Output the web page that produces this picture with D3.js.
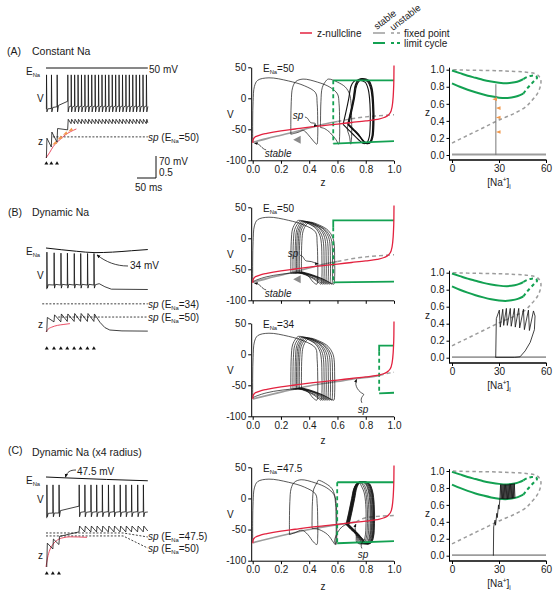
<!DOCTYPE html>
<html><head><meta charset="utf-8">
<script src="https://cdn.jsdelivr.net/npm/d3@7"></script>
<style>
body{margin:0;background:#fff}
svg text{font-family:"Liberation Sans",Arial,Helvetica,sans-serif;fill:#1a1a1a}
</style></head><body>
<script>
// ================= DATA =================
const RED="#e3223f", GREEN="#13a152", GRAY="#9c9c9c", ORANGE="#f29a4e";
// ---- left column: time series (t in ms) ----
const spikeTimesA=[1,14,29,57,66,75,84,93,102,111,120,129,138,147,156,165,174,183,192,201,210,219,228,237,246,255,264];
const vPeakA=[30];
const vTroughA=-78;
const vPreA=[-70,-68,-63,-47,-61,-61,-61,-61,-61,-61,-61,-61,-61,-61,-61,-61,-61,-61,-61,-61,-61,-61,-61,-61,-61,-61,-61];
const vAfterA=[-69,-65,-59,-63,-63,-63,-63,-63,-63,-63,-63,-63,-63,-63,-63,-63,-63,-63,-63,-63,-63,-63,-63,-63,-63,-63,-63];
const vTailA=[[268,-62]];
const zPreA=[0,0.25,0.36,0.64,0.78,0.78,0.78,0.78,0.78,0.78,0.78,0.78,0.78,0.78,0.78,0.78,0.78,0.78,0.78,0.78,0.78,0.78,0.78,0.78,0.78,0.78,0.78];
const zPeakA=[0.45,0.59,0.67,0.88,0.88,0.88,0.88,0.88,0.88,0.88,0.88,0.88,0.88,0.88,0.88,0.88,0.88,0.88,0.88,0.88,0.88,0.88,0.88,0.88,0.88,0.88,0.88];
const zTailA=[[268,0.8]];
const enaTA=[0,268], enaVA=[50,50];
const redTA=[[0,0],[10,0.13],[19,0.26],[28,0.35],[37,0.42],[50,0.52],[65,0.6],[80,0.66]];
const orangeTA=[[22,0.33],[36,0.45],[50,0.55],[64,0.63]];
const stimA=[1,14,29];
const spA=[0.48];

const spikeTimesB=[2,21,39,56,74,91,109,126];
const vPeakB=[38,36,35,35,34,34,34,34];
const vTroughB=-67;
const vPreB=[-70,-58,-58,-58,-58,-58,-58,-58];
const vAfterB=[-57,-56,-56,-56,-56,-56,-56,-57];
const vTailB=[[140,-54],[155,-63],[172,-70],[268,-71]];
const zPreB=[0,0.23,0.23,0.24,0.24,0.24,0.24,0.24];
const zPeakB=[0.33,0.39,0.41,0.41,0.42,0.42,0.42,0.41];
const zTailB=[[142,0.22],[155,0.1],[168,0.045],[200,0.025],[268,0.02]];
const enaTB=[0,40,80,129,175,225,268], enaVB=[50,45,40.5,36.5,38,42,45.5];
const redTB=[[0,0],[5,0.06],[15,0.11],[30,0.15],[45,0.17],[63,0.19]];
const stimB=[2,21,39,56,74,91,109,126];
const spB34=[0.64], spB50=[0.34];

const spikeTimesC=[2,18,34,87,102,118,133,148,164,179,195,210,225,241,256];
const vPeakC=[27];
const vTroughC=-66;
const vPreC=[-70,-55,-55,-35,-51,-51,-51,-51,-51,-51,-51,-51,-51,-51,-51];
const vAfterC=[-56,-55,-48,-53,-53,-53,-53,-53,-53,-53,-53,-53,-53,-53,-53];
const vTailC=[[268,-52]];
const zPreC=[0,0.40,0.50,0.78,0.78,0.78,0.78,0.78,0.78,0.78,0.78,0.78,0.78,0.78,0.78];
const zPeakC=[0.53,0.62,0.68,0.91,0.91,0.91,0.91,0.91,0.91,0.91,0.91,0.91,0.91,0.91,0.91];
const zTailC=[[268,0.8]];
const enaTC=[0,50,268], enaVC=[50,47.5,39];
const redTC=[[0,0],[4,0.2],[10,0.38],[18,0.5],[30,0.6],[45,0.65],[63,0.67],[108,0.66]];
const stimC=[2,18,34];
const spC475=[[0,0.756],[203,0.756],[268,0.667]];
const spC50=[[0,0.69],[203,0.69],[268,0.42]];

// ---- middle column: phase planes (z, V) ----
const zTicks=[0,0.2,0.4,0.6,0.8,1.0];
const vTicks=[-100,-50,0,50];
const nullcline=[[0,-72],[0.003,-67],[0.01,-64],[0.03,-61],[0.06,-58.5],[0.1,-56.5],[0.2,-52.5],[0.3,-49.5],[0.4,-46.5],[0.5,-44],[0.6,-41.5],[0.7,-39],[0.8,-36.5],[0.88,-34],[0.93,-31],[0.96,-27],[0.98,-20],[0.99,-8],[0.996,10],[0.999,30],[1.0,53]];
const fpSolid50=[[0,-71],[0.1,-65],[0.2,-59.5],[0.3,-54],[0.4,-48],[0.5,-42],[0.6,-37.5]];
const fpDash50=[[0.6,-37.5],[0.7,-33],[0.8,-30],[0.9,-28],[1.0,-26.5]];
const fpSolid34=[[0,-72],[0.2,-61],[0.4,-51],[0.6,-44],[0.74,-39],[0.85,-36],[0.9,-34]];
const fpDash34=[[0.9,-34],[0.95,-31],[1,-29]];
const fpSolid475=[[0,-71],[0.2,-60],[0.4,-50],[0.6,-42],[0.73,-38]];
const fpDash475=[[0.73,-38],[0.8,-31],[0.9,-28.5],[1,-27.5]];
const lcTop50=[[0.57,29],[1,29]], lcBot50=[[0.57,-73],[1,-69]], lcDash50=[[0.57,29],[0.57,-73]];
const lcTopB50=[[0.57,18],[0.57,29],[1,29]], lcBotB50=[[0.57,-71],[1,-70]], lcDashB50=[[0.57,18],[0.57,-71]];
const lcTop34=[[0.895,4],[0.895,14],[1,14]], lcBot34=[[0.895,-63],[1,-62]], lcDash34=[[0.895,4],[0.895,-63]];
const lcTop475=[[0.598,26],[1,26]], lcBot475=[[0.598,-72],[1,-68.5]], lcDash475=[[0.598,26],[0.598,-72]];
// spike loops: [zStart, vStart, zDrop, vPeak]
const loopsA=[[0,-70,0.46,33],[0.27,-58,0.615,31],[0.48,-47,0.70,31]];
const returnsA=[[[0.43,-69],[0.39,-58],[0.36,-52],[0.32,-55],[0.27,-58]],[[0.59,-67],[0.55,-56],[0.51,-49],[0.48,-47]],[[0.685,-62],[0.67,-50],[0.675,-42]]];
// converged cycles: [zLeft, zRight, vPeak]
const cyclesA=[[0.64,0.83,29],[0.675,0.852,31],[0.68,0.848,30],[0.672,0.856,32]];
const loopsB=[[0,-70,0.46,34],[0.27,-56,0.49,29],[0.285,-56,0.505,28],[0.30,-56,0.52,28],[0.31,-55,0.535,27],[0.32,-55,0.55,27],[0.33,-55,0.565,26],[0.345,-55,0.58,26]];
const returnsB=[[[0.43,-71],[0.39,-60],[0.35,-54],[0.30,-56],[0.27,-56]],[[0.47,-72],[0.42,-64],[0.33,-56],[0.285,-56]],[[0.485,-72],[0.43,-64],[0.34,-56],[0.30,-56]],[[0.50,-72],[0.44,-63],[0.35,-56],[0.31,-55]],[[0.515,-72],[0.45,-63],[0.36,-56],[0.32,-55]],[[0.53,-72],[0.46,-63],[0.37,-56],[0.33,-55]],[[0.545,-72],[0.47,-63],[0.38,-56],[0.345,-55]],[[0.56,-73],[0.5,-66],[0.42,-60],[0.32,-56],[0.2,-58],[0.1,-62],[0.03,-67],[0,-70]]];
const loopsC=[[0,-70,0.46,31],[0.26,-58,0.59,30],[0.42,-48,0.595,29]];
const returnsC=[[[0.43,-70],[0.39,-58],[0.35,-51],[0.30,-55],[0.26,-58]],[[0.57,-70],[0.53,-58],[0.47,-50],[0.42,-48]],[[0.58,-68],[0.6,-55],[0.63,-46],[0.66,-42]]];
const cyclesC=[[0.660,0.80,25],[0.662,0.81,26],[0.664,0.82,26],[0.666,0.83,27],[0.668,0.835,27],[0.67,0.84,27],[0.672,0.845,27],[0.674,0.85,27],[0.676,0.852,27],[0.678,0.855,27],[0.68,0.858,27],[0.682,0.86,27]];

// ---- right column: bifurcation diagrams ([Na+]i, z) ----
const naTicks=[0,30,60];
const zTicksR=[0,0.2,0.4,0.6,0.8,1.0];
const fpBif=[[0,0.14],[10,0.23],[20,0.32],[30,0.41],[40,0.49],[46,0.55],[51,0.64],[54.5,0.72],[56.3,0.8],[56.8,0.86],[56,0.91],[54,0.945],[50,0.965],[40,0.98],[25,0.99],[10,0.995],[0,1.0]];
const restBif=[[0,0.006],[60,0.006]];
const lcMaxBif=[[0,0.99],[5,0.96],[10,0.93],[15,0.905],[20,0.88],[25,0.862],[30,0.848],[35,0.842],[40,0.852],[43,0.868],[45.5,0.89]];
const lcMinBif=[[0,0.84],[5,0.80],[10,0.765],[15,0.735],[20,0.71],[25,0.688],[30,0.672],[34,0.667],[38,0.675],[42,0.692],[45.5,0.72]];
const lcUnstBif=[[45.5,0.72],[48,0.78],[50.5,0.83],[52.5,0.87],[54.3,0.905],[53.5,0.925],[51,0.93],[48,0.915],[45.5,0.89]];
const naFixedA=[[28,0],[28,0.83]];
const orangeNaA=[[27.3,0.655],[29.6,0.55],[29.6,0.44],[29.6,0.27]];
const trajNaB=[[27.9,0],[28.3,0.46],[30.2,0.56],[30.8,0.36],[32.4,0.57],[33,0.38],[34.7,0.58],[35.3,0.38],[37.2,0.58],[37.8,0.37],[39.8,0.58],[40.4,0.36],[42.6,0.58],[43.2,0.35],[45.6,0.57],[46.2,0.33],[48.8,0.56],[49.4,0.32],[52,0.55],[53,0.49],[52.6,0.33],[49.9,0.18],[46.7,0.08],[43.4,0.01],[40,0.004],[28,0.004]];
const trajNaC=[[26.4,0],[26.6,0.34],[27.5,0.42],[27.8,0.36],[28.6,0.5],[28.9,0.45],[29.7,0.6],[30,0.55],[30.6,0.68],[31,0.84],[31.4,0.67],[31.8,0.84],[32.2,0.67],[32.6,0.84],[33,0.668],[33.4,0.84],[33.8,0.667],[34.2,0.84],[34.6,0.667],[35,0.84],[35.4,0.668],[35.8,0.842],[36.2,0.67],[36.6,0.844],[37,0.672],[37.4,0.846],[37.8,0.674],[38.2,0.848],[38.6,0.676],[39,0.85],[39.4,0.678],[39.8,0.852],[40.2,0.68]];

// ================= DRAW =================
const svg=d3.select("body").append("svg").attr("width",558).attr("height",599).style("display","block");
const defs=svg.append("defs");
defs.append("marker").attr("id","arr").attr("viewBox","0 0 6 6").attr("refX",5).attr("refY",3)
  .attr("markerWidth",5).attr("markerHeight",5).attr("orient","auto")
  .append("path").attr("d","M0,0.5L6,3L0,5.5z").attr("fill","#111");

function txt(g,x,y,s,o={}){const t=g.append("text").attr("x",x).attr("y",y).attr("font-size",o.size||10).text(s);
  if(o.anchor)t.attr("text-anchor",o.anchor); if(o.italic)t.attr("font-style","italic"); if(o.fill)t.style("fill",o.fill); return t;}
function ena(g,x,y,rest,size=10){const t=g.append("text").attr("x",x).attr("y",y).attr("font-size",size);
  t.append("tspan").text("E");t.append("tspan").attr("font-size",size*0.58).attr("dy",2).text("Na");
  if(rest)t.append("tspan").attr("dy",-2).text(rest);return t;}
function spLab(g,x,y,val){const t=g.append("text").attr("x",x).attr("y",y).attr("font-size",10);
  t.append("tspan").attr("font-style","italic").text("sp");t.append("tspan").text(" (E");
  t.append("tspan").attr("font-size",5.8).attr("dy",2).text("Na");t.append("tspan").attr("dy",-2).text("="+val+")");}

// ---------- legend ----------
const lg=svg.append("g");
lg.append("line").attr("x1",300).attr("x2",312).attr("y1",33).attr("y2",33).attr("stroke",RED).attr("stroke-width",1.5);
txt(lg,317,37,"z-nullcline");
lg.append("line").attr("x1",373).attr("x2",385).attr("y1",33).attr("y2",33).attr("stroke",GRAY).attr("stroke-width",1.5);
lg.append("line").attr("x1",391).attr("x2",400).attr("y1",33).attr("y2",33).attr("stroke",GRAY).attr("stroke-width",1.5).attr("stroke-dasharray","3,3");
txt(lg,404,37,"fixed point");
lg.append("line").attr("x1",373).attr("x2",385).attr("y1",43).attr("y2",43).attr("stroke",GREEN).attr("stroke-width",2);
lg.append("line").attr("x1",391).attr("x2",400).attr("y1",43).attr("y2",43).attr("stroke",GREEN).attr("stroke-width",2).attr("stroke-dasharray","3,3");
txt(lg,404,47,"limit cycle");
txt(lg,0,0,"stable",{size:9.5}).attr("transform","translate(377,30) rotate(-38)");
txt(lg,0,0,"unstable",{size:9.5}).attr("transform","translate(393,31) rotate(-38)");

// ---------- left panels ----------
function leftPanel(c){
  const g=svg.append("g");
  const x=d3.scaleLinear().domain([0,268]).range([46,147.8]);
  const yv=d3.scaleLinear().domain([50,-78]).range([c.vTop,c.vTop+128*0.343]);
  const yz=d3.scaleLinear().domain([0,1]).range([c.z0,c.z0-c.zpx]);
  const line=(ys,curve)=>d3.line().x(d=>x(d[0])).y(d=>ys(d[1])).curve(curve||d3.curveLinear);
  g.append("path").attr("d",line(yv,d3.curveMonotoneX)(c.enaT.map((t,i)=>[t,c.enaV[i]]))).attr("fill","none").attr("stroke","#111").attr("stroke-width",1);
  const vp=[];
  c.spikes.forEach((t,i)=>{vp.push([t,c.vPre[i]]);vp.push([t+0.4,c.vPeak[i]!==undefined?c.vPeak[i]:c.vPeak[0]]);vp.push([t+1.4,c.vTrough]);vp.push([t+4,c.vAfter[i]]);});
  c.vTail.forEach(p=>vp.push(p));
  g.append("path").attr("d",line(yv)(vp)).attr("fill","none").attr("stroke","#111").attr("stroke-width",0.8);
  c.sp.forEach(s=>g.append("path").attr("d",line(yz)(s)).attr("fill","none").attr("stroke","#111").attr("stroke-width",0.8).attr("stroke-dasharray","2,1.6"));
  g.append("path").attr("d",line(yz,d3.curveMonotoneX)(c.red)).attr("fill","none").attr("stroke",RED).attr("stroke-width",0.8);
  const zp=[];
  c.spikes.forEach((t,i)=>{zp.push([t,c.zPre[i]]);zp.push([t+1.5,c.zPeak[i]]);});
  c.zTail.forEach(p=>zp.push(p));
  g.append("path").attr("d",line(yz)(zp)).attr("fill","none").attr("stroke","#111").attr("stroke-width",0.8);
  (c.orange||[]).forEach(d=>g.append("path").attr("d","M-2.4,-1.6L2.4,0L-2.4,1.6z").attr("fill",ORANGE)
     .attr("transform",`translate(${x(d[0])},${yz(d[1])}) rotate(150)`));
  c.stim.forEach(t=>g.append("path").attr("d","M-2,1.6L2,1.6L0,-1.8z").attr("fill","#111").attr("transform",`translate(${x(t)},${c.stimY})`));
  ena(g,26,c.vTop+7,null);
  txt(g,37,c.vLabY,"V",{size:10});
  txt(g,38,c.zLabY,"z",{size:10});
  return {g,x,yv,yz};
}
leftPanel({vTop:68,z0:158,zpx:44,enaT:enaTA,enaV:enaVA,spikes:spikeTimesA,vPeak:vPeakA,vPre:vPreA,vAfter:vAfterA,vTrough:vTroughA,vTail:vTailA,
  zPre:zPreA,zPeak:zPeakA,zTail:zTailA,red:redTA,orange:orangeTA,stim:stimA,stimY:163,vLabY:102,zLabY:145,
  sp:[[[18,spA[0]],[268,spA[0]]]]});
leftPanel({vTop:248,z0:332,zpx:44,enaT:enaTB,enaV:enaVB,spikes:spikeTimesB,vPeak:vPeakB,vPre:vPreB,vAfter:vAfterB,vTrough:vTroughB,vTail:vTailB,
  zPre:zPreB,zPeak:zPeakB,zTail:zTailB,red:redTB,stim:stimB,stimY:348,vLabY:279,zLabY:328,
  sp:[[[-10,spB34[0]],[268,spB34[0]]],[[32,spB50[0]],[268,spB50[0]]]]});
leftPanel({vTop:477,z0:567,zpx:45,enaT:enaTC,enaV:enaVC,spikes:spikeTimesC,vPeak:vPeakC,vPre:vPreC,vAfter:vAfterC,vTrough:vTroughC,vTail:vTailC,
  zPre:zPreC,zPeak:zPeakC,zTail:zTailC,red:redTC,stim:stimC,stimY:573,vLabY:503,zLabY:559,
  sp:[spC475,spC50]});

txt(svg,7,55,"(A)",{size:10.5});txt(svg,32,55,"Constant Na",{size:10.5});
txt(svg,8,216,"(B)",{size:10.5});txt(svg,32,216,"Dynamic Na",{size:10.5});
txt(svg,8,454,"(C)",{size:10.5});txt(svg,32,456,"Dynamic Na (x4 radius)",{size:10.5});
txt(svg,149,72.5,"50 mV");
spLab(svg,148,141,"50");
spLab(svg,148,308,"34");
spLab(svg,148,321,"50");
spLab(svg,148,540,"47.5");
spLab(svg,148,552,"50");
txt(svg,130,269,"34 mV");
svg.append("path").attr("d","M128,266 C116,266 106,262 97,255").attr("fill","none").attr("stroke","#111").attr("stroke-width",0.8).attr("marker-end","url(#arr)");
txt(svg,77,475,"47.5 mV");
svg.append("path").attr("d","M76,470 C70,470 67,472 65.5,477").attr("fill","none").attr("stroke","#111").attr("stroke-width",0.8).attr("marker-end","url(#arr)");
svg.append("path").attr("d","M156,156V178H137").attr("fill","none").attr("stroke","#111").attr("stroke-width",1);
txt(svg,159,165,"70 mV");txt(svg,159,176,"0.5");txt(svg,135,191,"50 ms");

// ---------- middle panels ----------
function spikeLoop(l){const [zs,vs,zd,vp]=l,L=zd-zs;
  return [[zs,vs],[zs,-35],[zs+0.003,-5],[zs+0.012,vp-14],[zs+0.035,vp-4],[zs+0.25*L,vp],[zs+0.55*L,vp-5],[zs+0.8*L,vp-13],[zd-0.015,vp-24],[zd-0.004,-8],[zd,-35],[zd,-62],[zd-0.006,-74]];}
function cycleLoop(c){const [zl,zr,vp]=c;
  return [[zl,-42],[zl+0.02,-22],[zl+0.04,0],[zl+0.055,vp-10],[zl+0.075,vp-2],[zl+0.1,vp],[zr-0.035,vp-3],[zr-0.012,vp-15],[zr,-10],[zr+0.002,-40],[zr-0.005,-62],[zr-0.02,-71],[zr-0.045,-73],[zr-0.065,-70],[zl+0.07,-58],[zl+0.035,-50],[zl,-42]];}
const mx=d3.scaleLinear().domain([0,1]).range([252.7,394]);
function midPanel(c){
  const g=svg.append("g");
  const y=d3.scaleLinear().domain([-100,50]).range([c.yBot,c.yTop]);
  const line=(curve)=>d3.line().x(d=>mx(d[0])).y(d=>y(d[1])).curve(curve||d3.curveLinear);
  const ya=g.append("g").attr("transform",`translate(${mx(0)-1.5},0)`).call(d3.axisLeft(y).tickValues(vTicks).tickFormat(d=>String(d)).tickSize(3).tickSizeOuter(0).tickPadding(2));
  const xa=g.append("g").attr("transform",`translate(0,${y(-100)+0.5})`).call(d3.axisBottom(mx).tickValues(zTicks).tickFormat(c.xLabels?d3.format(".1f"):"").tickSize(3).tickSizeOuter(0).tickPadding(2));
  [ya,xa].forEach(a=>{a.attr("font-family",null).attr("font-size",10);a.selectAll("text").style("fill","#1a1a1a");});
  xa.select(".domain").attr("d",`M${mx(0)-1.5},0H${mx(1)}`);
  g.append("path").attr("d",line(d3.curveMonotoneX)(c.fpS)).attr("fill","none").attr("stroke",GRAY).attr("stroke-width",1.6);
  g.append("path").attr("d",line(d3.curveMonotoneX)(c.fpD)).attr("fill","none").attr("stroke",GRAY).attr("stroke-width",1.4).attr("stroke-dasharray","4,3");
  let pts=[];
  c.loops.forEach((l,i)=>{pts=pts.concat(spikeLoop(l));if(c.returns[i])pts=pts.concat(c.returns[i]);});
  const tr=d3.line().x(d=>mx(d[0])).y(d=>y(d[1])).curve(d3.curveCatmullRom.alpha(0.5));
  g.append("path").attr("d",tr(pts)).attr("fill","none").attr("stroke","#111").attr("stroke-width",0.7);
  (c.cycles||[]).forEach(cy=>g.append("path").attr("d",tr(cycleLoop(cy))).attr("fill","none").attr("stroke","#111").attr("stroke-width",c.cycleW||1.2));
  g.append("path").attr("d",line()(c.lcTop)).attr("fill","none").attr("stroke",GREEN).attr("stroke-width",1.8);
  g.append("path").attr("d",line()(c.lcBot)).attr("fill","none").attr("stroke",GREEN).attr("stroke-width",1.8);
  g.append("path").attr("d",line()(c.lcDash)).attr("fill","none").attr("stroke",GREEN).attr("stroke-width",1.8).attr("stroke-dasharray","4,3");
  g.append("path").attr("d",line(d3.curveMonotoneX)(nullcline)).attr("fill","none").attr("stroke",RED).attr("stroke-width",1.3);
  if(c.tri){g.append("path").attr("d","M-4,0L3.5,-4L3.5,4z").attr("fill","#8a8a8a").attr("transform",`translate(${mx(c.tri[0])},${y(c.tri[1])})`);}
  ena(g,263,c.yTop+4.5,"="+c.ena);
  txt(g,227,y(-25)+4,"V");
  if(c.xLabels)txt(g,323,c.zLab,"z",{anchor:"middle"});
  if(c.sp){const [lz,lv,tz,tv]=c.sp;txt(g,mx(lz),y(lv)+4,"sp",{italic:true,anchor:"middle"});
    const sx=mx(lz),sy=y(lv),ex=mx(tz),ey=y(tv);
    let d;
    if(c.spDir==="up") d=`M${sx-1},${sy-6} C${sx-4},${sy-12} ${sx+3},${sy-14} ${sx},${(sy+ey)/2} S${ex-3},${ey+8} ${ex},${ey+1}`;
    else d=`M${sx+7},${sy+2} C${sx+12},${sy+3} ${sx+10},${sy+8} ${sx+15},${sy+8} S${ex-4},${ey} ${ex-1},${ey}`;
    g.append("path").attr("d",d).attr("fill","none").attr("stroke","#111").attr("stroke-width",0.7).attr("marker-end","url(#arr)");}
  if(c.stable){const [lz,lv]=c.stable;txt(g,mx(lz),y(lv)+4,"stable",{italic:true,anchor:"middle"});
    const sx=mx(lz)-12,sy=y(lv)-3;
    g.append("path").attr("d",`M${sx},${sy} C${sx-5},${sy-1} ${sx-5},${sy-6} ${mx(0)+2},${y(-70)+1.5}`).attr("fill","none").attr("stroke","#111").attr("stroke-width",0.7).attr("marker-end","url(#arr)");}
}
midPanel({yTop:67.3,yBot:160.3,xLabels:true,zLab:186,ena:"50",fpS:fpSolid50,fpD:fpDash50,loops:loopsA,returns:returnsA,cycles:cyclesA,cycleW:1.1,
  lcTop:lcTop50,lcBot:lcBot50,lcDash:lcDash50,tri:[0.315,-67],sp:[0.32,-27,0.46,-44],stable:[0.18,-88]});
midPanel({yTop:207.3,yBot:300.3,xLabels:false,ena:"50",fpS:fpSolid50,fpD:fpDash50,loops:loopsB,returns:returnsB,
  lcTop:lcTopB50,lcBot:lcBotB50,lcDash:lcDashB50,tri:[0.315,-66],sp:[0.285,-24,0.47,-41],stable:[0.18,-88]});
midPanel({yTop:323.3,yBot:416.3,xLabels:true,zLab:444,ena:"34",fpS:fpSolid34,fpD:fpDash34,loops:loopsB,returns:returnsB,
  lcTop:lcTop34,lcBot:lcBot34,lcDash:lcDash34,sp:[0.78,-88,0.735,-39],spDir:"up"});
midPanel({yTop:467.3,yBot:560.7,xLabels:true,zLab:590,ena:"47.5",fpS:fpSolid475,fpD:fpDash475,loops:loopsC,returns:returnsC,cycles:cyclesC,cycleW:0.7,
  lcTop:lcTop475,lcBot:lcBot475,lcDash:lcDash475,sp:[0.78,-90,0.73,-40],spDir:"up"});

// ---------- right panels ----------
const rx=d3.scaleLinear().domain([0,60]).range([452,546]);
function rightPanel(c){
  const g=svg.append("g");
  const y=d3.scaleLinear().domain([0,1]).range([c.y0,c.y1]);
  const line=(curve)=>d3.line().x(d=>rx(d[0])).y(d=>y(d[1])).curve(curve||d3.curveLinear);
  const ya=g.append("g").attr("transform","translate(449.5,0)").call(d3.axisLeft(y).tickValues(zTicksR).tickFormat(d3.format(".1f")).tickSize(3).tickSizeOuter(0).tickPadding(2));
  ya.select(".domain").remove();
  const xa=g.append("g").attr("transform",`translate(0,${c.ax})`).call(d3.axisBottom(rx).tickValues(naTicks).tickSize(3).tickSizeOuter(0).tickPadding(2));
  xa.select(".domain").remove();
  [ya,xa].forEach(a=>{a.attr("font-family",null).attr("font-size",10);a.selectAll("text").style("fill","#1a1a1a");});
  g.append("line").attr("x1",449.5).attr("x2",449.5).attr("y1",y(1)-2).attr("y2",c.ax).attr("stroke","#000");
  g.append("line").attr("x1",449).attr("x2",546.5).attr("y1",c.ax).attr("y2",c.ax).attr("stroke","#000").attr("stroke-width",1.3);
  g.append("path").attr("d",line()(restBif)).attr("fill","none").attr("stroke",GRAY).attr("stroke-width",1.8);
  g.append("path").attr("d",line(d3.curveMonotoneY)(fpBif)).attr("fill","none").attr("stroke",GRAY).attr("stroke-width",1.5).attr("stroke-dasharray","3.5,3");
  g.append("path").attr("d",line(d3.curveMonotoneX)(lcMaxBif)).attr("fill","none").attr("stroke",GREEN).attr("stroke-width",2);
  g.append("path").attr("d",line(d3.curveMonotoneX)(lcMinBif)).attr("fill","none").attr("stroke",GREEN).attr("stroke-width",2);
  g.append("path").attr("d",line(d3.curveCatmullRom)(lcUnstBif)).attr("fill","none").attr("stroke",GREEN).attr("stroke-width",2).attr("stroke-dasharray","3.5,3");
  if(c.fixedNa) g.append("path").attr("d",line()(c.fixedNa)).attr("fill","none").attr("stroke","#777").attr("stroke-width",1);
  if(c.traj) g.append("path").attr("d",line()(c.traj)).attr("fill","none").attr("stroke","#111").attr("stroke-width",0.8);
  (c.orange||[]).forEach(d=>g.append("path").attr("d","M-2.5,0L2.2,-1.8L2.2,1.8z").attr("fill",ORANGE).attr("transform",`translate(${rx(d[0])},${y(d[1])})`));
  txt(g,425,y(0.5)+4,"z");
  const t=g.append("text").attr("x",499).attr("y",c.ax+26).attr("font-size",10).attr("text-anchor","middle");
  t.append("tspan").text("[Na");t.append("tspan").attr("font-size",6.5).attr("dy",-4).text("+");
  t.append("tspan").attr("dy",4).text("]");t.append("tspan").attr("font-size",6.5).attr("dy",3).text("i");
}
rightPanel({y0:155,y1:69.7,ax:160,fixedNa:naFixedA,orange:orangeNaA});
rightPanel({y0:357.7,y1:272.7,ax:363,traj:trajNaB});
rightPanel({y0:555.7,y1:471,ax:561,traj:trajNaC});
</script></body></html>
